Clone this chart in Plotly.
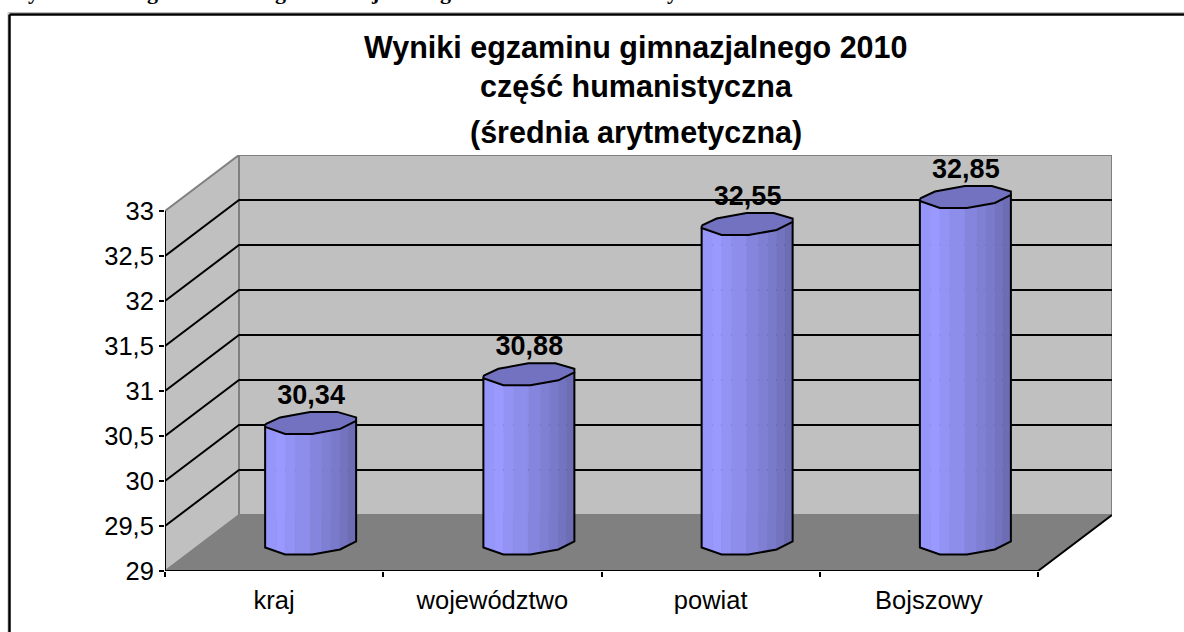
import numpy as np
import plotly.graph_objects as go

categories = ["kraj", "województwo", "powiat", "Bojszowy"]
values = [30.34, 30.88, 32.55, 32.85]
y_ticks = [29, 29.5, 30, 30.5, 31, 31.5, 32, 32.5, 33]
y_tick_labels = ["29", "29,5", "30", "30,5", "31", "31,5", "32", "32,5", "33"]
title_lines = ["Wyniki egzaminu gimnazjalnego 2010", "część humanistyczna", "(średnia arytmetyczna)"]
clipped_letters = ["y", "g", "g", "j", "g", "y"]

W, H = 1184, 632
L, R, T, B = 165, 72, 155, 61
CAT_PX = 218.25
VAL_PX = 90.0
DX = 74 / CAT_PX
DY = 56 / VAL_PX
YMIN, YMAX = y_ticks[0], y_ticks[-1]
N = len(categories)

def p(c, v, d):
    return c + d * DX, v + d * DY

def px(x):
    return (x - L) / (W - L - R)

def py(y):
    return (H - B - y) / (H - T - B)

fig = go.Figure()

def poly(points, fill, line=None, width=0):
    xs = [a for a, _ in points] + [points[0][0]]
    ys = [b for _, b in points] + [points[0][1]]
    fig.add_trace(go.Scatter(x=xs, y=ys, mode="lines", fill="toself", fillcolor=fill,
                             line=dict(color=line or fill, width=width or 0.5),
                             hoverinfo="skip", showlegend=False, cliponaxis=False))

def seg(points, color, width):
    fig.add_trace(go.Scatter(x=[a for a, _ in points], y=[b for _, b in points], mode="lines",
                             line=dict(color=color, width=width), hoverinfo="skip",
                             showlegend=False, cliponaxis=False))

WALL, FLOOR, EDGE = "#C0C0C0", "#808080", "#808080"
poly([p(0, YMIN, 0), p(0, YMIN, 1), p(0, YMAX, 1), p(0, YMAX, 0)], WALL)
poly([p(0, YMIN, 1), p(N, YMIN, 1), p(N, YMAX, 1), p(0, YMAX, 1)], WALL)
poly([p(0, YMIN, 0), p(N, YMIN, 0), p(N, YMIN, 1), p(0, YMIN, 1)], FLOOR)

seg([p(0, YMAX, 0), p(0, YMAX, 1), p(N, YMAX, 1), p(N, YMIN, 1)], EDGE, 2)
seg([p(0, YMAX, 1), p(0, YMIN, 1), p(N, YMIN, 1)], EDGE, 2)
seg([p(0, YMIN, 0), p(0, YMIN, 1)], EDGE, 1.6)
for t in y_ticks[1:-1]:
    seg([p(0, t, 0), p(0, t, 1), p(N, t, 1)], "#000000", 2)

# cylinder outline, pixel offsets from the cap centre
top_back = [(-46, 2.5), (-45, 1.5), (-31, -5), (-1, -10.5), (26, -10.5), (45, -5), (45, -1.5)]
front = [(-46, 4.5), (-26, 11.5), (1, 11.5), (29, 6.5), (45, -1.5)]
stripe_x = [-46, -35, -26, -16, -1, 11, 20, 29, 37, 45]
stripe_col = ["#9595FA", "#9999FF", "#9393F5", "#8D8DEC", "#8585DE", "#7F7FD4", "#7A7ACB", "#7373C0", "#6D6DB6"]
fx = [a for a, _ in front]
fy = [b for _, b in front]

def off(cx, cv, ox, oy):
    return cx + ox / CAT_PX, cv - oy / VAL_PX

for i, v in enumerate(values):
    cx, ctop = p(i + 0.5, v, 0.5)
    _, cbot = p(i + 0.5, YMIN, 0.5)
    for k, col in enumerate(stripe_col):
        x0, x1 = stripe_x[k], stripe_x[k + 1]
        y0, y1 = np.interp(x0, fx, fy), np.interp(x1, fx, fy)
        poly([off(cx, ctop, x0, y0), off(cx, ctop, x1, y1), off(cx, cbot, x1, y1), off(cx, cbot, x0, y0)], col)
    # silhouette
    seg([off(cx, ctop, *front[0]), off(cx, cbot, *front[0])] +
        [off(cx, cbot, *q) for q in front[1:]] +
        [off(cx, ctop, 45, -1.5)], "#000000", 2)
    cap = [off(cx, ctop, *q) for q in top_back] + [off(cx, ctop, *q) for q in front[::-1]]
    poly(cap, "#7272C0", "#000000", 2)
    fig.add_trace(go.Scatter(x=[cx], y=[ctop + 25.5 / VAL_PX], mode="text",
                             text=[f"{v:.2f}".replace(".", ",")], textposition="middle center",
                             textfont=dict(family="Liberation Sans", size=27, color="#000000"),
                             hoverinfo="skip", showlegend=False, cliponaxis=False,
                             texttemplate="<b>%{text}</b>"))

seg([p(0, YMAX, 0), p(0, YMIN, 0), p(N, YMIN, 0), p(N, YMIN, 1)], "#000000", 2)

ann = []
for line, yp in zip(title_lines, [47, 87, 132]):
    ann.append(dict(text=f"<b>{line}</b>", xref="paper", yref="paper", x=px(636), y=py(yp),
                    xanchor="center", yanchor="middle", showarrow=False,
                    font=dict(family="Liberation Sans", size=30.5, color="#000000")))
for ch, xp in zip(clipped_letters, [33, 152, 280, 375, 445, 672]):
    ann.append(dict(text=f"<b>{ch}</b>", xref="paper", yref="paper", x=px(xp), y=py(-9),
                    xanchor="center", yanchor="middle", showarrow=False,
                    font=dict(family="Liberation Serif", size=22, color="#000000")))

shapes = [
    dict(type="line", xref="paper", yref="paper", x0=px(8), x1=px(W), y0=py(12.5), y1=py(12.5), line=dict(color="#BBBBBB", width=1)),
    dict(type="line", xref="paper", yref="paper", x0=px(8), x1=px(8), y0=py(12.5), y1=py(H), line=dict(color="#BBBBBB", width=1)),
    dict(type="line", xref="paper", yref="paper", x0=px(9.5), x1=px(W), y0=py(14.5), y1=py(14.5), line=dict(color="#000000", width=2.5)),
    dict(type="line", xref="paper", yref="paper", x0=px(9.5), x1=px(9.5), y0=py(14.5), y1=py(H), line=dict(color="#000000", width=2.5)),
]

fig.update_layout(
    width=W, height=H, margin=dict(l=L, r=R, t=T, b=B, pad=0),
    paper_bgcolor="#FFFFFF", plot_bgcolor="#FFFFFF", showlegend=False,
    annotations=ann, shapes=shapes,
    font=dict(family="Liberation Sans", size=25.5, color="#000000"),
    xaxis=dict(range=[0, N + DX], showgrid=False, zeroline=False, showline=False,
               tickmode="array", tickvals=[i + 0.5 for i in range(N)], ticktext=categories,
               ticks="outside", ticklen=0, tickfont=dict(size=25.5), ticklabelstandoff=6,
               minor=dict(tickmode="array", tickvals=list(range(N + 1)), ticks="outside",
                          ticklen=5, tickwidth=2, tickcolor="#000000", showgrid=False)),
    yaxis=dict(range=[YMIN, YMAX + DY], showgrid=False, zeroline=False, showline=False,
               tickmode="array", tickvals=y_ticks, ticktext=y_tick_labels,
               ticks="outside", ticklen=5, tickwidth=2, tickcolor="#000000", tickfont=dict(size=25.5)),
)

fig.write_html("out.html", config=dict(displayModeBar=False),
               post_script="document.body.style.margin='0';document.body.style.overflow='hidden';")
